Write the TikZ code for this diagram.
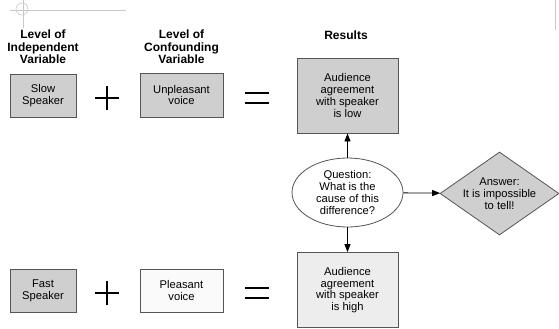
\documentclass[tikz,border=0pt]{standalone}
\usepackage{fontspec}
\setmainfont{Liberation Sans}
\usetikzlibrary{shapes.geometric,arrows.meta}

\definecolor{boxgray}{HTML}{CFCFCF}
\definecolor{palegray}{HTML}{EDEDED}
\definecolor{nearwhite}{HTML}{FAFAFA}
\definecolor{edgegray}{HTML}{555555}
\definecolor{markgray}{HTML}{C8C8C8}

\tikzset{
    level/.style={draw=edgegray, line width=0.6pt, fill=boxgray,
        align=center, inner sep=0pt,
        font=\fontsize{8.4}{8.8}\selectfont},
    result/.style={level, minimum width=75.75pt, minimum height=56.25pt},
    heading/.style={align=center, inner sep=0pt,
        font=\fontsize{9}{9.4}\selectfont\bfseries},
    question/.style={level, ellipse, fill=white,
        minimum width=83.25pt, minimum height=51.75pt},
    answer/.style={level, diamond,
        minimum width=89.25pt, minimum height=62.25pt},
    flow/.style={-{Triangle[length=6pt,width=4.5pt]}, line width=0.6pt},
    sign/.style={line width=2.2pt},
    cropmark/.style={draw=markgray, line width=0.5pt}
}

\begin{document}
\begin{tikzpicture}[x=0.75pt, y=-0.75pt]
    \useasboundingbox (0,0) rectangle (559,328);

    % crop marks of the page
    \draw [cropmark] (10,10) -- (126,10);
    \draw [cropmark] (23,0) -- (23,28);
    \draw [cropmark] (22,9) circle [radius=6];
    \draw [cropmark] (555,0) -- (555,30);

    % column headings
    \node [heading] (ivhead) at (43,47)%
        {Level of\\Independent\\Variable};
    \node [heading] (cvhead) at (181.5,47)%
        {Level of\\Confounding\\Variable};
    \node [heading] (reshead) at (346,35) {Results};

    % top row
    \node [level, minimum width=49.5pt, minimum height=32.25pt]
        (slow) at (43,95.5) {Slow\\Speaker};
    \node [level, minimum width=62.25pt, minimum height=33pt]
        (unpleasant) at (181.5,95) {Unpleasant\\voice};
    \node [result] (lowres) at (347.5,95.5)%
        {Audience\\agreement\\with speaker\\is low};
    \draw [sign] (95,98) -- (119,98);
    \draw [sign] (107,86) -- (107,110);
    \draw [sign] (245,93) -- (269,93);
    \draw [sign] (245,103) -- (269,103);

    % bottom row
    \node [level, minimum width=49.5pt, minimum height=32.25pt]
        (fast) at (43,290.5) {Fast\\Speaker};
    \node [level, fill=nearwhite, minimum width=62.25pt, minimum height=32.25pt]
        (pleasant) at (181.5,290.5) {Pleasant\\voice};
    \node [result, fill=palegray] (highres) at (347.5,290)%
        {Audience\\agreement\\with speaker\\is high};
    \draw [sign] (95,293) -- (119,293);
    \draw [sign] (107,281) -- (107,305);
    \draw [sign] (245,288) -- (269,288);
    \draw [sign] (245,298) -- (269,298);

    % question and answer
    \node [question] (cause) at (347.5,192.5)%
        {Question:\\What is the\\cause of this\\difference?};
    \node [answer,
        label={[align=center, font=\fontsize{8.4}{8.8}\selectfont]%
            center:{Answer:\\It is impossible\\to tell!}}]
        (tell) at (499.5,193.5) {};

    \draw [flow] (cause) -- (lowres);
    \draw [flow] (cause) -- (highres);
    \draw [flow] (cause) -- (tell);
\end{tikzpicture}
\end{document}
